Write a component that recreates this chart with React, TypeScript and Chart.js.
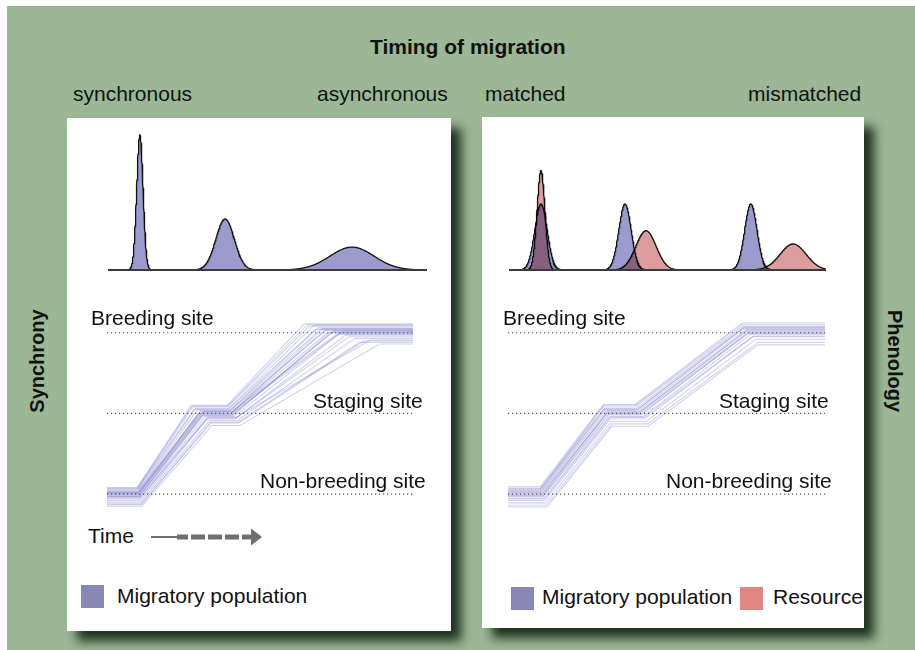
import React, { useEffect, useRef } from "react";
import { Chart, registerables } from "chart.js";

// ---------- DATA ----------
// Top-left: migratory population arrival distributions (time 0..100, relative density)
const synchPeakCenters = [10.0, 36.7, 76.5];
const synchPeakSD = [1.0, 2.9, 6.9];
const synchPeakHeights = [1.0, 0.378, 0.17];

// Top-right: population (blue) vs resource (red) distributions
const popPeakCenters = [10.1, 36.6, 76.3];
const popPeakSD = [1.95, 1.95, 1.95];
const popPeakHeights = [0.489, 0.489, 0.489];
const resPeakCenters = [10.1, 43.2, 89.6];
const resPeakSD = [1.25, 3.2, 4.1];
const resPeakHeights = [0.736, 0.291, 0.193];

// Site levels (0 = non-breeding, 1 = staging, 2 = breeding)
const siteLevels = [0, 1, 2];

// Bottom-left trajectories (asynchronous spread)
const leftNBOffset = [0.02, -0.03, 0.05, -0.08, 0.0, -0.12, 0.07, -0.05, 0.03, -0.15, 0.01, -0.02, 0.04, -0.1, -0.01, 0.06, -0.06, 0.02, -0.04, 0.0, -0.13, 0.08, -0.03, 0.01];
const leftLeaveNB = [10.0, 10.5, 9.8, 11.0, 10.2, 11.3, 9.9, 10.7, 10.1, 11.4, 10.4, 10.6, 10.0, 11.1, 10.3, 9.9, 10.8, 10.2, 10.9, 10.5, 11.2, 9.8, 10.6, 10.3];
const leftArriveStage = [30.5, 31.5, 28.0, 33.0, 30.0, 34.0, 27.5, 32.0, 29.5, 34.3, 31.0, 30.8, 29.0, 33.5, 31.2, 28.5, 32.5, 30.2, 32.8, 31.8, 33.8, 27.8, 31.4, 30.6];
const leftStageOffset = [0.03, -0.02, 0.08, -0.06, 0.0, -0.12, 0.1, -0.04, 0.04, -0.15, 0.01, -0.03, 0.06, -0.09, 0.02, 0.05, -0.07, -0.01, -0.05, 0.02, -0.11, 0.09, -0.02, 0.03];
const leftLeaveStage = [40.0, 41.0, 39.5, 42.0, 40.5, 43.0, 39.2, 41.5, 40.2, 43.5, 40.8, 41.2, 39.8, 42.5, 40.6, 39.6, 41.8, 40.4, 42.2, 41.0, 42.8, 39.4, 40.9, 40.3];
const leftArriveBreed = [70.0, 74.0, 66.0, 78.0, 72.0, 84.0, 64.5, 76.0, 69.0, 89.0, 71.0, 73.0, 67.5, 81.0, 75.0, 68.0, 79.0, 77.0, 86.0, 70.5, 82.5, 65.5, 73.5, 71.5];
const leftBreedOffset = [0.05, 0.02, 0.08, -0.03, 0.0, -0.1, 0.11, -0.01, 0.06, -0.14, 0.03, 0.01, 0.09, -0.07, -0.02, 0.04, -0.05, 0.02, -0.09, 0.05, -0.12, 0.1, 0.0, 0.03];

// Bottom-right trajectories (tight timing)
const rightNBOffset = [0.02, -0.03, 0.05, -0.08, 0.0, -0.14, 0.07, -0.05, 0.03, -0.11, 0.01, -0.02, 0.04, -0.06, -0.01, 0.06, -0.16, 0.09];
const rightLeaveNB = [10.5, 11.0, 10.1, 11.6, 10.7, 12.1, 10.2, 11.3, 10.4, 11.9, 10.8, 11.1, 10.3, 11.5, 10.9, 10.2, 12.3, 10.1];
const rightArriveStage = [31.0, 31.8, 30.0, 32.3, 31.2, 32.8, 30.2, 32.0, 30.6, 32.6, 31.4, 31.6, 30.4, 32.2, 31.3, 30.3, 32.8, 30.1];
const rightStageOffset = [0.03, -0.02, 0.08, -0.07, 0.0, -0.13, 0.1, -0.04, 0.04, -0.1, 0.02, -0.01, 0.06, -0.05, 0.01, 0.05, -0.16, 0.11];
const rightLeaveStage = [41.0, 42.0, 40.0, 43.0, 41.4, 44.0, 40.2, 42.5, 40.6, 43.6, 41.6, 41.8, 40.4, 42.8, 41.2, 40.8, 44.2, 40.1];
const rightArriveBreed = [75.0, 76.0, 74.0, 77.5, 75.5, 78.9, 73.8, 76.5, 74.6, 78.2, 75.2, 75.8, 74.3, 77.0, 75.4, 74.0, 78.8, 73.9];
const rightBreedOffset = [0.04, 0.01, 0.08, -0.04, 0.0, -0.12, 0.1, -0.02, 0.06, -0.08, 0.02, -0.01, 0.07, -0.05, 0.03, 0.05, -0.15, 0.12];

// ---------- STYLE ----------
const GREEN = "#9bb795";
const POP_FILL = "#9b9bcd";
const RES_FILL = "#dd9d9d";
const POP_LEGEND = "#8888b4";
const RES_LEGEND = "#e08484";
const TRAJ_COLOR = "rgba(105,105,195,0.3)";
const FONT = "'Liberation Sans', Arial, Helvetica, sans-serif";

// Registered before the built-in plugins so that the multiply blend also covers the Filler's area fill.
const multiplyPlugin = {
  id: "multiplyBlend",
  beforeDatasetDraw(chart: any, args: any) {
    const ds = chart.data.datasets[args.index];
    if (ds && ds.multiply) {
      chart.ctx.save();
      chart.ctx.globalCompositeOperation = "multiply";
    }
  },
  afterDatasetDraw(chart: any, args: any) {
    const ds = chart.data.datasets[args.index];
    if (ds && ds.multiply) chart.ctx.restore();
  },
};
Chart.register(multiplyPlugin as any);
Chart.register(...registerables);

function gaussPoints(mu: number, sd: number, h: number) {
  const pts: { x: number; y: number }[] = [];
  const lo = Math.max(0, mu - 4.5 * sd);
  const hi = Math.min(100, mu + 4.5 * sd);
  const step = sd / 20;
  for (let x = lo; x <= hi + 1e-9; x += step) {
    const z = (x - mu) / sd;
    pts.push({ x, y: h * Math.exp(-0.5 * z * z) });
  }
  return pts;
}

function peakDataset(mu: number, sd: number, h: number, fill: string, multiply = false) {
  return {
    data: gaussPoints(mu, sd, h),
    borderColor: "#111",
    borderWidth: 1.3,
    backgroundColor: fill,
    fill: "origin",
    pointRadius: 0,
    tension: 0,
    clip: false,
    multiply,
  } as any;
}

function baseOptions(yMin: number, yMax: number) {
  return {
    animation: false,
    responsive: false,
    maintainAspectRatio: false,
    events: [],
    layout: { padding: 0 },
    plugins: { legend: { display: false }, tooltip: { enabled: false } },
    elements: { point: { radius: 0 }, line: { tension: 0 } },
    scales: {
      x: { type: "linear", display: false, min: 0, max: 100 },
      y: { type: "linear", display: false, min: yMin, max: yMax },
    },
  } as any;
}

function ChartBox({ left, top, width, height, config }: any) {
  const ref = useRef<HTMLCanvasElement | null>(null);
  useEffect(() => {
    if (!ref.current) return;
    const chart = new Chart(ref.current, config);
    return () => chart.destroy();
  }, []);
  return (
    <canvas
      ref={ref}
      width={width}
      height={height}
      style={{ position: "absolute", left, top, width, height }}
    />
  );
}

function densityConfig(pop: any[], res: any[]) {
  const datasets: any[] = [
    {
      data: [
        { x: 0, y: 0 },
        { x: 100, y: 0 },
      ],
      borderColor: "#3a3a3a",
      borderWidth: 2,
      pointRadius: 0,
      fill: false,
      clip: false,
    },
    ...res,
    ...pop,
  ];
  return {
    type: "line",
    data: { datasets },
    options: baseOptions(-5 / 135, 145 / 135),
  } as any;
}

function trajConfig(nbOff: number[], leaveNB: number[], arrS: number[], sOff: number[], leaveS: number[], arrB: number[], bOff: number[]) {
  const dotted = siteLevels.map((lv) => ({
    data: [
      { x: 0, y: lv },
      { x: 100, y: lv },
    ],
    borderColor: "#555",
    borderWidth: 1.2,
    borderDash: [1.2, 2.8],
    pointRadius: 0,
    fill: false,
    clip: false,
  }));
  const traj = nbOff.map((_, i) => ({
    data: [
      { x: 0, y: siteLevels[0] + nbOff[i] },
      { x: leaveNB[i], y: siteLevels[0] + nbOff[i] },
      { x: arrS[i], y: siteLevels[1] + sOff[i] },
      { x: leaveS[i], y: siteLevels[1] + sOff[i] },
      { x: arrB[i], y: siteLevels[2] + bOff[i] },
      { x: 100, y: siteLevels[2] + bOff[i] },
    ],
    borderColor: TRAJ_COLOR,
    borderWidth: 1.1,
    pointRadius: 0,
    fill: false,
    clip: false,
  }));
  return {
    type: "line",
    data: { datasets: [...dotted, ...traj] },
    options: baseOptions(-0.26, 2.22),
  } as any;
}

function Txt({ x, base, size = 21, bold = false, children }: any) {
  return (
    <div
      style={{
        position: "absolute",
        left: x,
        top: base - 0.9465 * size,
        fontFamily: FONT,
        fontSize: size,
        lineHeight: `${size * 1.2}px`,
        fontWeight: bold ? 700 : 400,
        color: "#111",
        whiteSpace: "nowrap",
      }}
    >
      {children}
    </div>
  );
}

function SideLabel({ cx, cy, rot, children }: any) {
  return (
    <div
      style={{
        position: "absolute",
        left: cx,
        top: cy,
        transform: `translate(-50%, -50%) rotate(${rot}deg)`,
        fontFamily: FONT,
        fontSize: 20,
        fontWeight: 700,
        lineHeight: "24px",
        color: "#111",
        whiteSpace: "nowrap",
      }}
    >
      {children}
    </div>
  );
}

function Swatch({ x, y, color }: any) {
  return <div style={{ position: "absolute", left: x, top: y, width: 23, height: 23, background: color }} />;
}

export default function App() {
  const synchPeaks = synchPeakCenters.map((m, i) => peakDataset(m, synchPeakSD[i], synchPeakHeights[i], POP_FILL));
  const popPeaks = popPeakCenters.map((m, i) => peakDataset(m, popPeakSD[i], popPeakHeights[i], POP_FILL));
  const resPeaks = resPeakCenters.map((m, i) => peakDataset(m, resPeakSD[i], resPeakHeights[i], RES_FILL, true));

  const panelStyle = (left: number, top: number, width: number, height: number): any => ({
    position: "absolute",
    left,
    top,
    width,
    height,
    background: "#fff",
    boxShadow: "10px 10px 10px rgba(25,42,25,0.95)",
  });

  return (
    <div style={{ position: "absolute", left: 0, top: 0, width: 915, height: 650, background: "#fff", overflow: "hidden" }}>
      <div style={{ position: "absolute", left: 7, top: 6, width: 908, height: 644, background: GREEN }} />
      <div style={panelStyle(67, 118, 384, 513)} />
      <div style={panelStyle(482, 117, 382, 511)} />

      <Txt x={370} base={54} bold>Timing of migration</Txt>
      <Txt x={73} base={101}>synchronous</Txt>
      <Txt x={317} base={101}>asynchronous</Txt>
      <Txt x={485} base={101}>matched</Txt>
      <Txt x={748} base={101}>mismatched</Txt>

      <SideLabel cx={37} cy={361} rot={-90}>Synchrony</SideLabel>
      <SideLabel cx={895} cy={361} rot={90}>Phenology</SideLabel>

      <ChartBox left={108} top={125} width={319} height={150} config={densityConfig(synchPeaks, [])} />
      <ChartBox left={509} top={125} width={317} height={150} config={densityConfig(popPeaks, resPeaks)} />

      <ChartBox
        left={107}
        top={315}
        width={306}
        height={200}
        config={trajConfig(leftNBOffset, leftLeaveNB, leftArriveStage, leftStageOffset, leftLeaveStage, leftArriveBreed, leftBreedOffset)}
      />
      <ChartBox
        left={508}
        top={315}
        width={317}
        height={200}
        config={trajConfig(rightNBOffset, rightLeaveNB, rightArriveStage, rightStageOffset, rightLeaveStage, rightArriveBreed, rightBreedOffset)}
      />

      <Txt x={91} base={325}>Breeding site</Txt>
      <Txt x={313} base={408}>Staging site</Txt>
      <Txt x={260} base={488}>Non-breeding site</Txt>
      <Txt x={503} base={325}>Breeding site</Txt>
      <Txt x={719} base={408}>Staging site</Txt>
      <Txt x={666} base={488}>Non-breeding site</Txt>

      <Txt x={88} base={542.5}>Time</Txt>
      <svg style={{ position: "absolute", left: 148, top: 526, width: 118, height: 22 }} width={118} height={22}>
        <line x1={3} y1={11} x2={30} y2={11} stroke="#6f6f6f" strokeWidth={2} />
        <line x1={29} y1={11} x2={104} y2={11} stroke="#6f6f6f" strokeWidth={5} strokeDasharray="11 3 14 3 14 3 14 3 14" />
        <polygon points="103,2.5 114,11 103,19.5" fill="#6f6f6f" />
      </svg>

      <Swatch x={81} y={585} color={POP_LEGEND} />
      <Txt x={117} base={602.7}>Migratory population</Txt>

      <Swatch x={511} y={587} color={POP_LEGEND} />
      <Txt x={542} base={604.3}>Migratory population</Txt>
      <Swatch x={740} y={587} color={RES_LEGEND} />
      <Txt x={773} base={604.3}>Resource</Txt>
    </div>
  );
}
